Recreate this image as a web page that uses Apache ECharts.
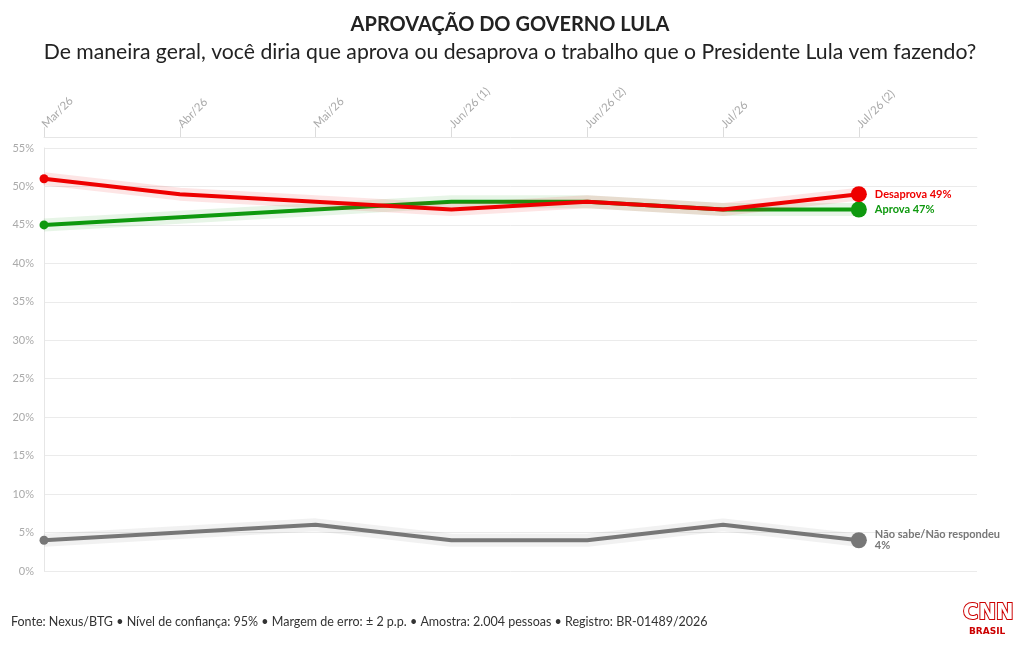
<!DOCTYPE html>
<html>
<head>
<meta charset="utf-8">
<script src="https://cdn.jsdelivr.net/npm/echarts@6/dist/echarts.min.js"></script>
<style>
  html, body { margin: 0; padding: 0; background: #fff; }
  #chart { width: 1020px; height: 650px; }
</style>
</head>
<body>
<div id="chart"></div>
<script>
// categorias (pesquisas)
const categories = ['Mar/26', 'Abr/26', 'Mai/26', 'Jun/26 (1)', 'Jun/26 (2)', 'Jul/26', 'Jul/26 (2)']
// valores em %
const desaprova = [51, 49, 48, 47, 48, 47, 49]
const aprova = [45, 46, 47, 48, 48, 47, 47]
const naoSabe = [4, 5, 6, 4, 4, 6, 4]
const yTicks = [0, 5, 10, 15, 20, 25, 30, 35, 40, 45, 50, 55]

const font = 'Lato, "Noto Sans", sans-serif'
const last = categories.length - 1

const toPoints = arr => arr.map((v, i) => [i, v])

// linha principal + "halo" claro por baixo
function makeSeries(name, data, color, labelText, z) {
  return [
    {
      name: name + '-halo',
      type: 'line',
      data: toPoints(data),
      symbol: 'none',
      silent: true,
      z: z,
      lineStyle: { width: 13, color: color, opacity: 0.1 }
    },
    {
      name,
      type: 'line',
      data: toPoints(data),
      z: z + 1,
      symbol: 'circle',
      symbolSize: (val, p) => (p.dataIndex === 0 ? 9 : p.dataIndex === last ? 16 : 0),
      itemStyle: { color },
      lineStyle: { width: 4, color },
      endLabel: {
        show: true,
        distance: 16,
        formatter: labelText,
        color,
        fontFamily: font,
        fontWeight: 'bold',
        fontSize: 11,
        lineHeight: 11
      }
    }
  ]
}

const myChart = echarts.init(document.getElementById('chart'))

const option = {
  animation: false,
  backgroundColor: '#fff',
  title: {
    text: 'APROVAÇÃO DO GOVERNO LULA',
    subtext: 'De maneira geral, você diria que aprova ou desaprova o trabalho que o Presidente Lula vem fazendo?',
    left: 'center',
    top: 10,
    itemGap: 7,
    textStyle: { fontFamily: font, fontSize: 20, fontWeight: 'bold', color: '#222' },
    subtextStyle: { fontFamily: font, fontSize: 21.2, color: '#222' }
  },
  grid: { left: 44, right: 43, top: 148, bottom: 79 },
  xAxis: {
    type: 'value',
    position: 'top',
    offset: 11,
    min: 0,
    max: 6.87,
    interval: 1,
    axisLine: { show: true, onZero: false, lineStyle: { color: '#e6e6e6' } },
    axisTick: { show: true, length: 10, lineStyle: { color: '#dcdcdc' } },
    splitLine: { show: false },
    axisLabel: {
      rotate: -45,
      margin: 11,
      color: '#aaa',
      fontFamily: font,
      fontSize: 11.5,
      showMaxLabel: false,
      formatter: v => (Number.isInteger(v) ? categories[v] || '' : '')
    }
  },
  yAxis: {
    type: 'value',
    min: 0,
    max: 55,
    interval: 5,
    axisLine: { show: true, onZero: false, lineStyle: { color: '#e6e6e6' } },
    axisTick: { show: false },
    splitLine: { lineStyle: { color: '#ebebeb' } },
    axisLabel: {
      margin: 10,
      color: '#aaa',
      fontFamily: font,
      fontSize: 11,
      formatter: v => (yTicks.includes(v) ? v + '%' : '')
    }
  },
  series: [
    ...makeSeries('Não sabe/Não respondeu', naoSabe, '#777777', p => 'Não sabe/Não respondeu\n' + p.value[1] + '%', 2),
    ...makeSeries('Aprova', aprova, '#0f990f', p => 'Aprova ' + p.value[1] + '%', 4),
    ...makeSeries('Desaprova', desaprova, '#ee0000', p => 'Desaprova ' + p.value[1] + '%', 6)
  ],
  graphic: [
    {
      type: 'text',
      left: 11,
      top: 615,
      style: {
        text: 'Fonte: Nexus/BTG • Nível de confiança: 95% • Margem de erro: ± 2 p.p. • Amostra: 2.004 pessoas • Registro: BR-01489/2026',
        font: '12.5px ' + font,
        fill: '#333'
      }
    },
    {
      type: 'text',
      left: 962,
      top: 602,
      style: {
        text: 'CNN',
        font: 'bold 21px "DejaVu Sans", sans-serif',
        fill: '#fff',
        stroke: '#cc0000',
        lineWidth: 2
      }
    },
    {
      type: 'text',
      left: 969,
      top: 627,
      style: { text: 'BRASIL', font: 'bold 9px "DejaVu Sans", sans-serif', fill: '#cc0000' }
    }
  ]
}

myChart.setOption(option)
</script>
</body>
</html>
